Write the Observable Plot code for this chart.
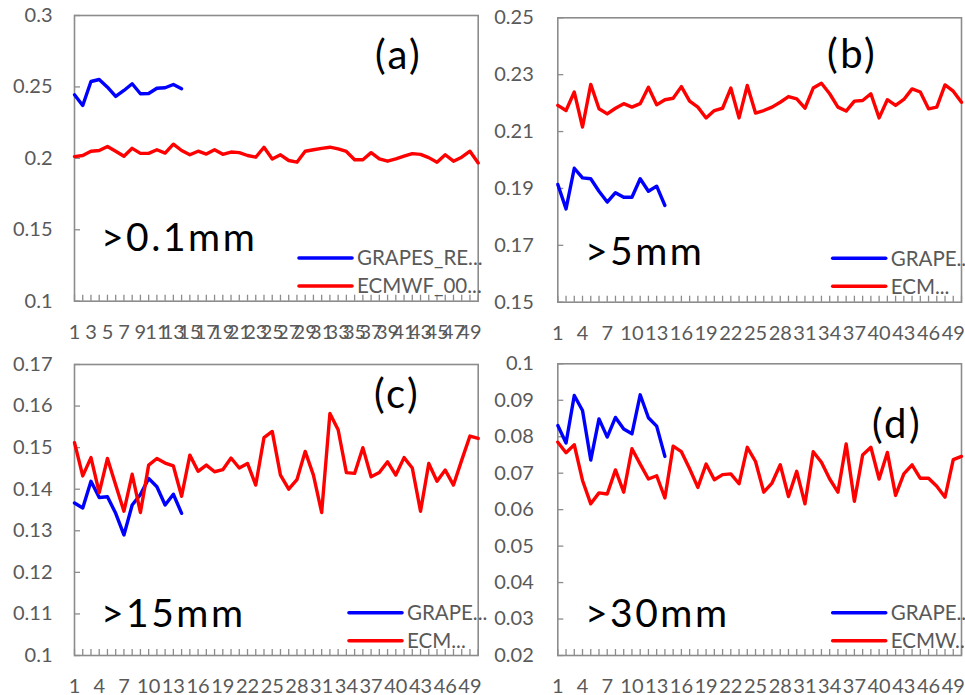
<!DOCTYPE html>
<html><head><meta charset="utf-8">
<script src="https://cdn.jsdelivr.net/npm/d3@7"></script>
<script src="https://cdn.jsdelivr.net/npm/@observablehq/plot@0.6"></script>
<style>
html,body{margin:0;padding:0;background:#fff;overflow:hidden;width:965px;height:695px;}
#root{position:relative;width:965px;height:695px;}
.panel{position:absolute;}
</style></head><body><div id="root"></div>
<script>
// ---- data ----
const days = [1,2,3,4,5,6,7,8,9,10,11,12,13,14,15,16,17,18,19,20,21,22,23,24,25,26,27,28,29,30,31,32,33,34,35,36,37,38,39,40,41,42,43,44,45,46,47,48,49,50];
const xTicksA = [1,3,5,7,9,11,13,15,17,19,21,23,25,27,29,31,33,35,37,39,41,43,45,47,49];
const xTicksB = [1,4,7,10,13,16,19,22,25,28,31,34,37,40,43,46,49];
const yTicksA = [0.1,0.15,0.2,0.25,0.3];
const yTicksB = [0.15,0.17,0.19,0.21,0.23,0.25];
const yTicksC = [0.1,0.11,0.12,0.13,0.14,0.15,0.16,0.17];
const yTicksD = [0.02,0.03,0.04,0.05,0.06,0.07,0.08,0.09,0.1];

const blueA = [0.2445,0.237,0.2538,0.2552,0.2498,0.2433,0.2475,0.2522,0.2452,0.2454,0.2491,0.2494,0.2517,0.2487];
const redA = [0.2012,0.202,0.205,0.2055,0.2083,0.205,0.2015,0.207,0.2035,0.2035,
              0.206,0.2037,0.2099,0.2055,0.2025,0.205,0.203,0.206,0.2028,0.2044,
              0.204,0.202,0.2008,0.2078,0.1996,0.2025,0.1985,0.1973,0.205,0.206,
              0.207,0.2078,0.2066,0.2048,0.199,0.199,0.204,0.1996,0.198,0.1996,
              0.2015,0.2033,0.2028,0.2005,0.1973,0.2025,0.198,0.2008,0.205,0.1968];

const blueB = [0.1914,0.1828,0.1971,0.1937,0.1934,0.189,0.1852,0.1885,0.1869,0.1869,0.1934,0.189,0.1908,0.184];
const redB = [0.2192,0.2174,0.2239,0.2116,0.2266,0.218,0.2162,0.2182,0.2198,0.2186,
              0.2198,0.2256,0.2194,0.2212,0.2217,0.2258,0.2207,0.2186,0.2148,0.2174,
              0.2182,0.2253,0.2148,0.2262,0.2165,0.2174,0.2186,0.2203,0.2223,0.2215,
              0.2182,0.2253,0.227,0.2233,0.2186,0.2172,0.2207,0.2209,0.2233,0.2148,
              0.2212,0.2192,0.2213,0.225,0.2239,0.218,0.2186,0.2264,0.2242,0.2203];

const blueC = [0.1367,0.1355,0.1419,0.138,0.1382,0.1342,0.129,0.1362,0.1387,0.1426,0.1406,0.1362,0.1388,0.1342];
const redC = [0.1512,0.1432,0.1476,0.1392,0.1474,0.141,0.1347,0.1436,0.1344,0.1458,
              0.1474,0.1463,0.1456,0.1383,0.1482,0.1443,0.1458,0.1442,0.1447,0.1475,
              0.1451,0.1462,0.141,0.1524,0.1539,0.1434,0.14,0.1423,0.1491,0.1434,
              0.1344,0.1582,0.1543,0.144,0.1438,0.15,0.143,0.144,0.1466,0.1434,
              0.1476,0.1451,0.1347,0.1462,0.1419,0.1446,0.141,0.147,0.1528,0.1522];

const blueD = [0.0831,0.0783,0.0913,0.0872,0.0736,0.0849,0.0799,0.0853,0.0821,0.0808,0.0915,0.0852,0.0829,0.0746];
const redD = [0.0785,0.0756,0.0778,0.068,0.0616,0.0646,0.0643,0.0709,0.0648,0.0767,
              0.0725,0.0684,0.0693,0.0632,0.0774,0.0759,0.0712,0.0661,0.0725,0.0682,
              0.0696,0.0698,0.0671,0.0771,0.0732,0.0648,0.0673,0.0723,0.0636,0.0705,
              0.0616,0.0759,0.073,0.0684,0.0648,0.078,0.0623,0.075,0.0771,0.0684,
              0.0757,0.0639,0.0698,0.0723,0.0686,0.0686,0.0664,0.0634,0.0737,0.0746];

const legendA = ["GRAPES_RE...", "ECMWF_00..."];
const legendB = ["GRAPE...", "ECM..."];
const legendC = ["GRAPE...", "ECM..."];
const legendD = ["GRAPE...", "ECMW..."];
const tags = ["(a)", "(b)", "(c)", "(d)"];
const thresholds = [">0.1mm", ">5mm", ">15mm", ">30mm"];

// ---- styles ----
const BLUE = "#0000ff", RED = "#ff0000", AXIS = "#8c8c8c", TEXT = "#595959";

const panels = [
  {left:0, top:0, width:480, height:340, mt:15, mb:39.3, ml:74, mr:2.3, yDomain:[0.1,0.3], yTicks:yTicksA, xTicks:xTicksA,
   blue:blueA, red:redA, yPad:22, xPad:24, tag:tags[0], tagX:375, tagY:69, thr:thresholds[0], thrX:101, thrY:250.7, legX:299, legY:258, leg:legendA},
  {left:480, top:0, width:485, height:340, mt:17.3, mb:38.3, ml:77.3, mr:4, yDomain:[0.15,0.25], yTicks:yTicksB, xTicks:xTicksB,
   blue:blueB, red:redB, yPad:24, xPad:23.5, tag:tags[1], tagX:347, tagY:68, thr:thresholds[1], thrX:105, thrY:265, legX:352.7, legY:258.3, leg:legendB},
  {left:0, top:340, width:480, height:355, mt:24, mb:40, ml:74, mr:2.3, yDomain:[0.1,0.17], yTicks:yTicksC, xTicks:xTicksB,
   blue:blueC, red:redC, yPad:22, xPad:23, tag:tags[2], tagX:374, tagY:68, thr:thresholds[2], thrX:101, thrY:287, legX:349, legY:272.7, leg:legendC},
  {left:480, top:340, width:485, height:355, mt:23.3, mb:40, ml:77.3, mr:4, yDomain:[0.02,0.1], yTicks:yTicksD, xTicks:xTicksB,
   blue:blueD, red:redD, yPad:24, xPad:23, tag:tags[3], tagX:392, tagY:98, thr:thresholds[3], thrX:105, thrY:287, legX:352.7, legY:272.7, leg:legendD}
];

function overlay(p) {
  return () => {
    const g = d3.create("svg:g").attr("text-anchor", "start");
    g.append("text").attr("x", p.tagX).attr("y", p.tagY).attr("font-size", 40)
      .attr("letter-spacing", "2.5px").attr("fill", "#000").text(p.tag);
    g.append("text").attr("x", p.thrX).attr("y", p.thrY).attr("font-size", 39)
      .attr("letter-spacing", "2.5px").attr("fill", "#000").text(p.thr);
    [[p.leg[0], BLUE], [p.leg[1], RED]].forEach(([name, c], k) => {
      const y = p.legY + k * 28;
      g.append("line").attr("x1", p.legX).attr("x2", p.legX + 53).attr("y1", y).attr("y2", y)
        .attr("stroke", c).attr("stroke-width", 3.6).attr("stroke-linecap", "round");
      g.append("text").attr("x", p.legX + 58).attr("y", y).attr("dy", "0.36em")
        .attr("font-size", 20.5).attr("fill", TEXT).text(name);
    });
    return g.node();
  };
}

const root = document.getElementById("root");
panels.forEach(p => {
  const fw = p.width - p.ml - p.mr, fh = p.height - p.mt - p.mb;
  const rows = s => s.map((v, i) => ({day: days[i], v}));
  const chart = Plot.plot({
    width: p.width, height: p.height,
    marginTop: p.mt, marginBottom: p.mb, marginLeft: p.ml, marginRight: p.mr,
    style: {fontFamily: "Lato, sans-serif", fontSize: "20px", overflow: "visible", background: "transparent"},
    x: {domain: [1, 50]},
    y: {domain: p.yDomain},
    marks: [
      Plot.ruleX(days, {x: d => d, insetTop: fh - 6, stroke: AXIS, strokeWidth: 1.3}),
      Plot.ruleY(p.yTicks, {y: d => d, insetRight: fw - 6, stroke: AXIS, strokeWidth: 1.3}),
      Plot.frame({stroke: AXIS, strokeWidth: 1.6}),
      Plot.axisX({ticks: p.xTicks, tickSize: 0, tickPadding: p.xPad, tickFormat: d => String(d), color: TEXT, label: null}),
      Plot.axisY({ticks: p.yTicks, tickSize: 0, tickPadding: p.yPad, tickFormat: d3.format("~g"), color: TEXT, label: null}),
      Plot.lineY(rows(p.blue), {x: "day", y: "v", stroke: BLUE, strokeWidth: 3.4, strokeLinejoin: "round", strokeLinecap: "round"}),
      Plot.lineY(rows(p.red), {x: "day", y: "v", stroke: RED, strokeWidth: 3.4, strokeLinejoin: "round", strokeLinecap: "round"}),
      overlay(p)
    ]
  });
  const div = document.createElement("div");
  div.className = "panel";
  div.style.left = p.left + "px";
  div.style.top = p.top + "px";
  div.appendChild(chart);
  root.appendChild(div);
});
</script></body></html>
